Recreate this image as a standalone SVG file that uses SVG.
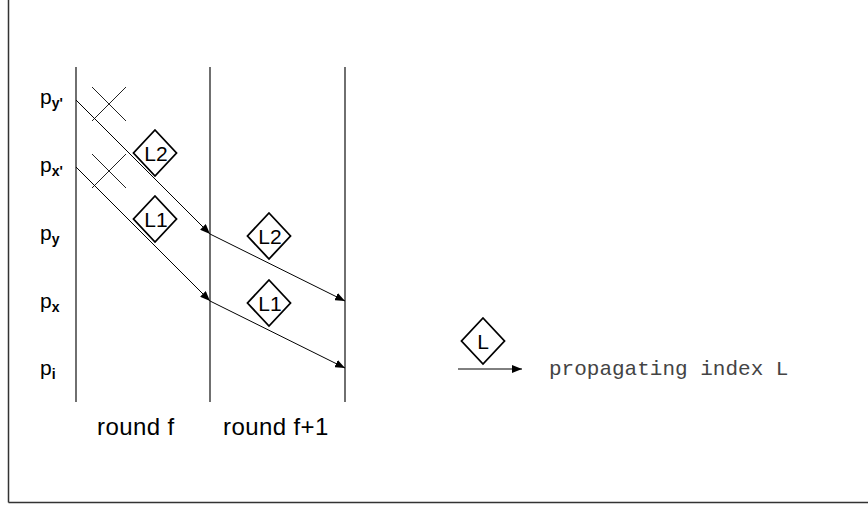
<svg xmlns="http://www.w3.org/2000/svg" width="868" height="507" viewBox="0 0 868 507">
  <defs>
    <marker id="arrow" viewBox="0 0 10 8" refX="10" refY="4" markerWidth="10" markerHeight="8" markerUnits="userSpaceOnUse" orient="auto">
      <path d="M0,0 L10,4 L0,8 Z" fill="#000"/>
    </marker>
    <style>
      .frame { stroke: #333; stroke-width: 1.5; fill: none; }
      .lane { stroke: #222; stroke-width: 1.3; fill: none; }
      .msg { stroke: #000; stroke-width: 1; fill: none; marker-end: url(#arrow); }
      .cross { stroke: #222; stroke-width: 1; fill: none; }
      .tag { stroke: #000; stroke-width: 1.8; fill: #fff; }
      .sans { font-family: "Liberation Sans", Arial, sans-serif; fill: #000; }
      .tagtext { font-family: "Liberation Sans", Arial, sans-serif; font-size: 21px; text-anchor: middle; fill: #000; }
      .proc { font-size: 21px; }
      .sub { font-size: 14px; font-weight: bold; }
      .mono { font-family: "Liberation Mono", "Courier New", monospace; font-size: 21px; fill: #444; }
    </style>
  </defs>

  <rect width="868" height="507" fill="#fff"/>

  <!-- outer frame (left and bottom edges) -->
  <g id="frame">
    <line class="frame" x1="8.5" y1="0" x2="8.5" y2="502.5"/>
    <line class="frame" x1="8.5" y1="502.5" x2="868" y2="502.5" stroke="#555"/>
  </g>

  <!-- round boundaries -->
  <g id="lanes">
    <line class="lane" x1="76" y1="67" x2="76" y2="402"/>
    <line class="lane" x1="210" y1="67" x2="210" y2="402"/>
    <line class="lane" x1="345" y1="67" x2="345" y2="402"/>
  </g>

  <!-- process labels -->
  <g id="processes" class="sans proc">
    <text x="40" y="104">p<tspan class="sub" dy="4">y'</tspan></text>
    <text x="40" y="172">p<tspan class="sub" dy="4">x'</tspan></text>
    <text x="40" y="240">p<tspan class="sub" dy="4">y</tspan></text>
    <text x="40" y="308">p<tspan class="sub" dy="4">x</tspan></text>
    <text x="40" y="375">p<tspan class="sub" dy="4">i</tspan></text>
  </g>

  <!-- crashed senders -->
  <g id="crash-y">
    <line class="cross" x1="92" y1="87" x2="126" y2="121"/>
    <line class="cross" x1="92" y1="121" x2="126" y2="87"/>
  </g>
  <g id="crash-x">
    <line class="cross" x1="92" y1="154" x2="126" y2="188"/>
    <line class="cross" x1="92" y1="188" x2="126" y2="154"/>
  </g>

  <!-- messages -->
  <g id="connectors">
    <line class="msg" x1="76" y1="100" x2="210" y2="234"/>
    <line class="msg" x1="76" y1="167" x2="210" y2="301"/>
    <line class="msg" x1="210" y1="234" x2="345" y2="301"/>
    <line class="msg" x1="210" y1="301" x2="345" y2="368"/>
    <line class="msg" x1="458" y1="369" x2="522" y2="369"/>
  </g>

  <!-- propagated index tags -->
  <g id="tag-l2-f">
    <path class="tag" d="M155,130 L176.5,153 L155,176 L133.5,153 Z"/>
    <text class="tagtext" x="156" y="161">L2</text>
  </g>
  <g id="tag-l1-f">
    <path class="tag" d="M155,196 L176.5,219 L155,242 L133.5,219 Z"/>
    <text class="tagtext" x="156" y="227">L1</text>
  </g>
  <g id="tag-l2-f1">
    <path class="tag" d="M269,213 L290.5,236 L269,259 L247.5,236 Z"/>
    <text class="tagtext" x="270" y="244">L2</text>
  </g>
  <g id="tag-l1-f1">
    <path class="tag" d="M269,280 L290.5,303 L269,326 L247.5,303 Z"/>
    <text class="tagtext" x="270" y="311">L1</text>
  </g>

  <!-- round labels -->
  <g id="rounds" class="sans" font-size="24" letter-spacing="0.4">
    <text x="97" y="435">round f</text>
    <text x="223" y="435">round f+1</text>
  </g>

  <!-- legend -->
  <g id="legend">
    <path class="tag" d="M483,318 L504.5,341 L483,364 L461.5,341 Z"/>
    <text class="tagtext" x="483" y="349">L</text>
    <text class="mono" x="549" y="375">propagating index L</text>
  </g>
</svg>
